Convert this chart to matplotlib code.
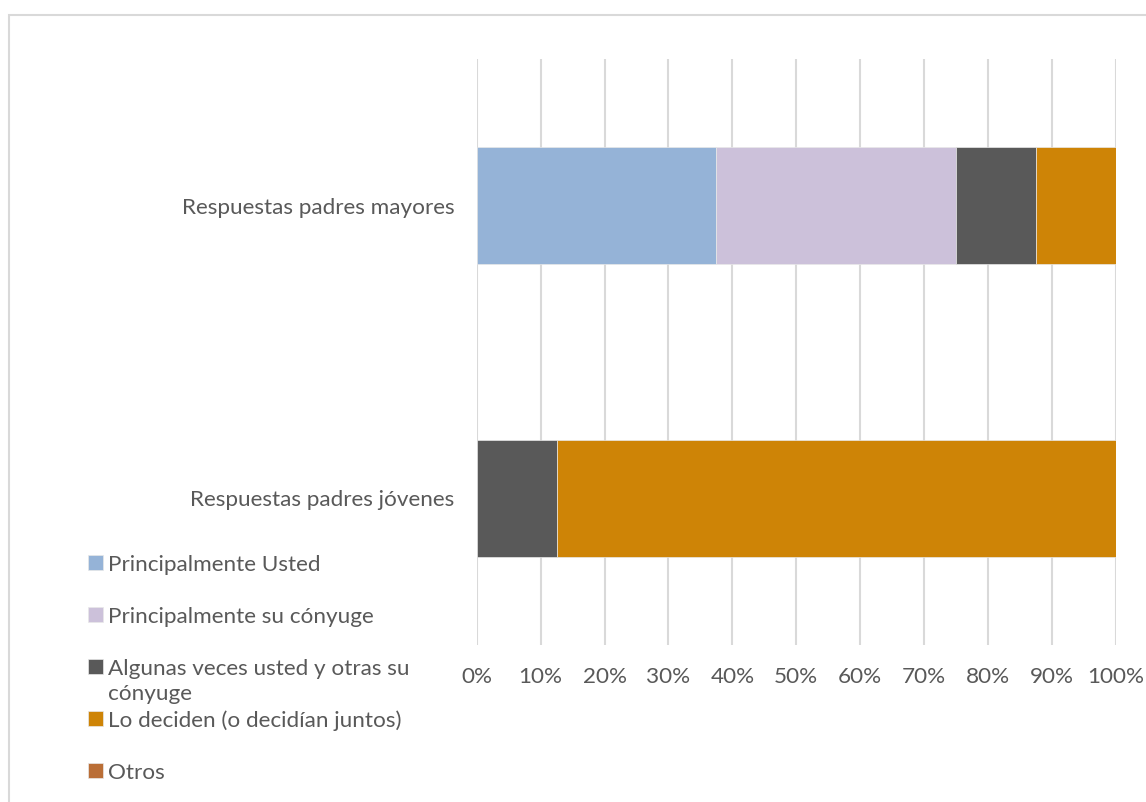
import matplotlib.pyplot as plt
from matplotlib.patches import Rectangle
from matplotlib.ticker import PercentFormatter

# categories (bottom to top) and series shares in %
categories = ["Respuestas padres jóvenes", "Respuestas padres mayores"]
series_names = [
    "Principalmente Usted",
    "Principalmente su cónyuge",
    "Algunas veces usted y otras su\ncónyuge",
    "Lo deciden (o decidían juntos)",
    "Otros",
]
usted = [0, 37.5]
conyuge = [0, 37.5]
algunas = [12.5, 12.5]
juntos = [87.5, 12.5]
otros = [0, 0]
colors = ["#95B3D7", "#CCC1DA", "#595959", "#CE8406", "#BA6E36"]

plt.rcParams["font.family"] = ["Lato", "DejaVu Sans"]
text_color = "#595959"

fig = plt.figure(figsize=(11.46, 8.02), dpi=100)
ax = fig.add_axes([0.416, 0.1958, 0.5576, 0.7306])

pos = range(len(categories))
left = [0, 0]
handles = []
for vals, name, col in zip([usted, conyuge, algunas, juntos, otros], series_names, colors):
    b = ax.barh(pos, vals, left=left, height=0.4, color=col, label=name,
                edgecolor="#e8e8e8", linewidth=0.5, zorder=3)
    handles.append(b)
    left = [l + v for l, v in zip(left, vals)]

ax.set_xlim(0, 100)
ax.set_ylim(-0.5, 1.5)
ax.set_xticks(range(0, 101, 10))
ax.xaxis.set_major_formatter(PercentFormatter(decimals=0))
ax.set_yticks(list(pos))
ax.set_yticklabels(categories)
ax.tick_params(axis="both", length=0, labelsize=16.2, labelcolor=text_color)
ax.tick_params(axis="x", pad=16)
ax.tick_params(axis="y", pad=16)
ax.grid(axis="x", color="#d9d9d9", linewidth=1.5, zorder=0)
for s in ax.spines.values():
    s.set_visible(False)

# legend: pad one-line labels (except the last) so each entry takes two lines
labels = [n if ("\n" in n or i == len(series_names) - 1) else n + "\n"
          for i, n in enumerate(series_names)]
leg = fig.legend(handles, labels, loc="upper left", bbox_to_anchor=(0.0768, 0.3075),
                 frameon=False, fontsize=16.2, labelcolor=text_color,
                 handlelength=0.65, handleheight=0.65, handletextpad=0.25,
                 labelspacing=0.29, borderpad=0, borderaxespad=0)
for t in leg.get_texts():
    t.set_linespacing(1.33)
for col in leg._legend_handle_box.get_children():
    for row in col.get_children():
        row.align = "top"

# light chart-area border
fig.patches.append(Rectangle((8.5 / 1146, -0.1), 1.2, 1 - 14.5 / 802 + 0.1,
                             transform=fig.transFigure, fill=False,
                             edgecolor="#d9d9d9", linewidth=1.5))

fig.savefig("out.png", dpi=100)
